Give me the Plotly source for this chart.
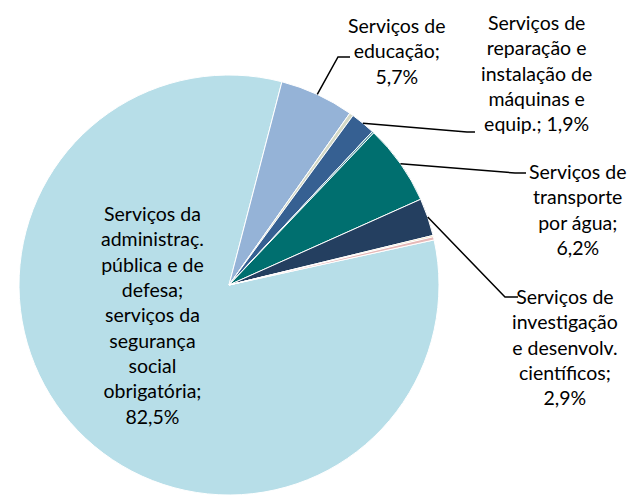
import math
import plotly.graph_objects as go

W, H = 630, 497

labels = [
    "Serviços da administraç. pública e de defesa; serviços da segurança social obrigatória",
    "Serviços de educação",
    "Outros serviços (a)",
    "Serviços de reparação e instalação de máquinas e equip.",
    "Outros serviços (b)",
    "Serviços de transporte por água",
    "Serviços de investigação e desenvolv. científicos",
    "Outros serviços (c)",
    "Outros serviços (d)",
]
values = [82.5, 5.7, 0.3, 1.9, 0.15, 6.2, 2.9, 0.1, 0.25]
colors = ["#B7DEE8", "#95B3D7", "#D4D9C6", "#366092", "#4A8C9C",
          "#006F6F", "#243F60", "#D8B860", "#E6B9B8"]

# pie geometry (pixels)
cx, cy, R = 229, 285, 210
rotation = 77.6  # start angle of first slice (degrees clockwise from 12 o'clock)

total = sum(values)
starts = []
a = rotation
for v in values:
    starts.append(a)
    a += v / total * 360.0
mids = [s + v / total * 180.0 for s, v in zip(starts, values)]

def px(x):
    return x / W

def py(y):
    return 1 - y / H

fig = go.Figure(go.Pie(
    labels=labels, values=values, sort=False, direction="clockwise",
    rotation=rotation, marker=dict(colors=colors, line=dict(color="white", width=1)),
    textinfo="none", hoverinfo="label+percent", showlegend=False,
    domain=dict(x=[px(cx - R), px(cx + R)], y=[py(cy + R), py(cy - R)]),
))

font = dict(family="Lato, 'Open Sans', sans-serif", size=19.5, color="#000000")

# outside labels: (slice index, text, label center x, label center y, elbow points)
outside = [
    (1, "Serviços de<br>educação;<br>5,7%", 397, 51, [(338, 57), (350, 57)]),
    (3, "Serviços de<br>reparação e<br>instalação de<br>máquinas e<br>equip.; 1,9%", 536, 73, [(467, 132), (475, 132)]),
    (5, "Serviços de<br>transporte<br>por água;<br>6,2%", 578, 209, [(515, 173), (526, 173)]),
    (6, "Serviços de<br>investigação<br>e desenvolv.<br>científicos;<br>2,9%", 565, 347, [(505, 297), (518, 297)]),
]

shapes = []
annotations = []
for idx, text, lx, ly, pts in outside:
    ang = math.radians(mids[idx])
    sx = cx + R * math.sin(ang)
    sy = cy - R * math.cos(ang)
    path = "M %f,%f" % (px(sx), py(sy))
    for (x, y) in pts:
        path += " L %f,%f" % (px(x), py(y))
    shapes.append(dict(type="path", xref="paper", yref="paper", path=path,
                       line=dict(color="black", width=1.5)))
    annotations.append(dict(text=text, x=px(lx), y=py(ly), xref="paper", yref="paper",
                            showarrow=False, align="center", xanchor="center",
                            yanchor="middle", font=font))

annotations.append(dict(
    text="Serviços da<br>administraç.<br>pública e de<br>defesa;<br>serviços da<br>segurança<br>social<br>obrigatória;<br>82,5%",
    x=px(152), y=py(315), xref="paper", yref="paper", showarrow=False,
    align="center", xanchor="center", yanchor="middle", font=font))

fig.update_layout(
    width=W, height=H, margin=dict(l=0, r=0, t=0, b=0),
    paper_bgcolor="white", plot_bgcolor="white",
    shapes=shapes, annotations=annotations,
)

fig.write_html("out.html", config={"displayModeBar": False},
               post_script="document.body.style.margin='0';document.body.style.overflow='hidden';")
